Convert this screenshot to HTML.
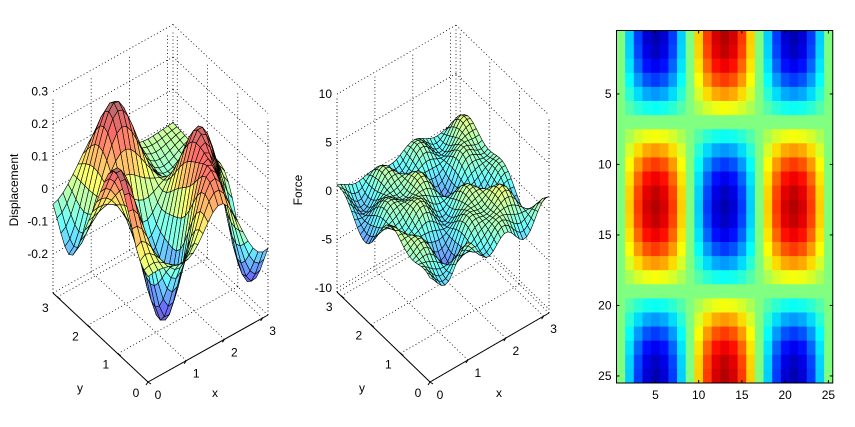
<!DOCTYPE html>
<html><head><meta charset="utf-8"><style>
html,body{margin:0;padding:0;background:#fff;}
svg{display:block;font-family:"Liberation Sans",sans-serif;font-size:12px;}
</style></head><body>
<svg id="s" width="855" height="427" viewBox="0 0 855 427" xmlns="http://www.w3.org/2000/svg"></svg>
<script>
var S=document.getElementById('s'),out='';
function jet(v){v=Math.max(0,Math.min(1,v));
 function c(t){return Math.max(0,Math.min(1,1.5-Math.abs(t)));}
 return [c(4*v-3),c(4*v-2),c(4*v-1)];}
function rgb(a,al){var w=al===undefined?0:al;return 'rgb('+a.map(function(x){return Math.round(255*(x*(1-w)+w));}).join(',')+')';}
var PI=Math.PI;
function gs(list,x,y){var s=0;list.forEach(function(g){var dx=x-g[0],dy=y-g[1];s+=g[2]*Math.exp(-(dx*dx+dy*dy)/(2*g[3]*g[3]));});return s;}
var G1=[[0.12,1.08,0.25,0.45],[1.22,2.6,0.24,0.42],[1.87,0.38,0.17,0.4],[2.39,1.13,0.25,0.45],
 [1.13,0.94,-0.32,0.42],[3.0,0.6,-0.3,0.45],[0,2.6,-0.16,0.35],[1.4,1.75,-0.1,0.35],[2.4,2.4,-0.06,0.4]];
function panel(o){
 function P(x,y,z){return [o.F[0]+x/PI*(o.R[0]-o.F[0])+y/PI*(o.L[0]-o.F[0]),
   o.F[1]+x/PI*(o.R[1]-o.F[1])+y/PI*(o.L[1]-o.F[1])-(z-o.zmin)*o.s];}
 var zmax=o.zmax, d='stroke="#000" stroke-width="0.8" stroke-dasharray="1,2.5" fill="none"';
 function ln(a,b,st){out+='<line x1="'+a[0].toFixed(1)+'" y1="'+a[1].toFixed(1)+'" x2="'+b[0].toFixed(1)+'" y2="'+b[1].toFixed(1)+'" '+st+'/>';}
 [0,1,2,3].forEach(function(t){ln(P(t,0,o.zmin),P(t,PI,o.zmin),d);ln(P(0,t,o.zmin),P(PI,t,o.zmin),d);
   ln(P(t,PI,o.zmin),P(t,PI,zmax),d);ln(P(PI,t,o.zmin),P(PI,t,zmax),d);});
 o.zt.forEach(function(z){ln(P(0,PI,z),P(PI,PI,z),d);ln(P(PI,PI,z),P(PI,0,z),d);
   out+='<text x="'+(o.L[0]-5)+'" y="'+(P(0,PI,z)[1]+4).toFixed(1)+'" text-anchor="end">'+z+'</text>';});
 ln(P(0,PI,o.zmin),P(0,PI,zmax),d);ln(P(PI,PI,o.zmin),P(PI,PI,zmax),d);ln(P(PI,0,o.zmin),P(PI,0,zmax),d);
 ln(P(0,PI,o.zmin),P(PI,PI,o.zmin),d);ln(P(PI,0,o.zmin),P(PI,PI,o.zmin),d);
 var sol='stroke="#000" stroke-width="1"';
 ln(P(0,0,o.zmin),P(PI,0,o.zmin),sol);ln(P(0,0,o.zmin),P(0,PI,o.zmin),sol);
 [0,1,2,3].forEach(function(t){var a=P(t,0,o.zmin);ln(a,[a[0]-2,a[1]+3],sol);
   out+='<text x="'+(a[0]+10).toFixed(1)+'" y="'+(a[1]+17).toFixed(1)+'" text-anchor="middle">'+t+'</text>';
   var b=P(0,t,o.zmin);ln(b,[b[0]+3,b[1]+2],sol);
   out+='<text x="'+(b[0]-12).toFixed(1)+'" y="'+(b[1]+15).toFixed(1)+'" text-anchor="middle">'+t+'</text>';});
 out+='<text x="'+o.xl[0]+'" y="'+o.xl[1]+'">x</text><text x="'+o.yl[0]+'" y="'+o.yl[1]+'">y</text>';
 out+='<text transform="translate('+o.zl[0]+','+o.zl[1]+') rotate(-90)" text-anchor="middle">'+o.zlab+'</text>';
 var n=o.n,Z=[],mn=1e9,mx=-1e9;
 for(var i=0;i<=n;i++){Z[i]=[];for(var j=0;j<=n;j++){var v=o.f(i/n*PI,j/n*PI);Z[i][j]=v;mn=Math.min(mn,v);mx=Math.max(mx,v);}}
 if(o.cl){mn=o.cl[0];mx=o.cl[1];}
 var q=[];for(i=0;i<n;i++)for(j=0;j<n;j++)q.push([i,j]);
 q.sort(function(a,b){return (b[0]+b[1])-(a[0]+a[1]);});
 q.forEach(function(c){var i=c[0],j=c[1];
  var pts=[[i,j],[i+1,j],[i+1,j+1],[i,j+1]].map(function(p){return P(p[0]/n*PI,p[1]/n*PI,Z[p[0]][p[1]]);});
  var zc=(Z[i][j]+Z[i+1][j]+Z[i][j+1]+Z[i+1][j+1])/4;
  out+='<polygon points="'+pts.map(function(p){return p[0].toFixed(1)+','+p[1].toFixed(1);}).join(' ')+'" fill="'+rgb(jet((zc-mn)/(mx-mn)),0.42)+'" stroke="#000" stroke-width="0.6"/>';});
}
panel({F:[148,382],R:[268,315],L:[53,293],zmin:-0.32,zmax:0.28,s:325,n:24,zt:[-0.2,-0.1,0,0.1,0.2,0.3],
 f:function(x,y){return gs(G1,x,y)*Math.min(1,(x+0.3)*(y+0.3)*4)*Math.min(1,(PI-x+0.6)*(PI-y+0.6)*3);},xl:[212,397],yl:[77,392],zl:[18,190],zlab:'Displacement'});
panel({F:[430,382],R:[549,313],L:[337,292],zmin:-10.4,zmax:9.6,s:9.7,n:32,zt:[-10,-5,0,5,10],cl:[-5,7],
 f:function(x,y){return 1.6*Math.cos(3*x)*Math.cos(2.2*(y-0.9))+1.1*Math.cos(6*x+0.5)*Math.cos(4.4*y)-0.7*Math.sin(2*x)*Math.sin(3*y);},
 xl:[496,397],yl:[359,392],zl:[302,190],zlab:'Force'});
var x0=616.5,cw=8.65,y0=30.5,rh=14.1;
for(var r=1;r<=25;r++)for(var c=1;c<=25;c++){
 var v=0.9*Math.cos(PI*(r-13)/12)*Math.cos(PI*(c-5)/8);
 out+='<rect x="'+(x0+(c-1)*cw).toFixed(2)+'" y="'+(y0+(r-1)*rh).toFixed(2)+'" width="'+(cw+0.4).toFixed(2)+'" height="'+(rh+0.4).toFixed(2)+'" fill="'+rgb(jet((v+1)/2))+'"/>';}
out+='<rect x="'+x0+'" y="'+y0+'" width="'+(25*cw).toFixed(2)+'" height="'+(25*rh).toFixed(2)+'" fill="none" stroke="#000" stroke-width="1"/>';
[5,10,15,20,25].forEach(function(t){var y=y0+(t-0.5)*rh,x=x0+(t-0.5)*cw,R=x0+25*cw,B=y0+25*rh;
 out+='<line x1="'+x0+'" y1="'+y+'" x2="'+(x0+3)+'" y2="'+y+'" stroke="#000"/><line x1="'+(R-3)+'" y1="'+y+'" x2="'+R+'" y2="'+y+'" stroke="#000"/>';
 out+='<line x1="'+x+'" y1="'+B+'" x2="'+x+'" y2="'+(B-3)+'" stroke="#000"/><line x1="'+x+'" y1="'+y0+'" x2="'+x+'" y2="'+(y0+3)+'" stroke="#000"/>';
 out+='<text x="'+(x0-5)+'" y="'+(y+4)+'" text-anchor="end">'+t+'</text><text x="'+x+'" y="'+(B+16)+'" text-anchor="middle">'+t+'</text>';});
S.innerHTML=out;
</script>
</body></html>
